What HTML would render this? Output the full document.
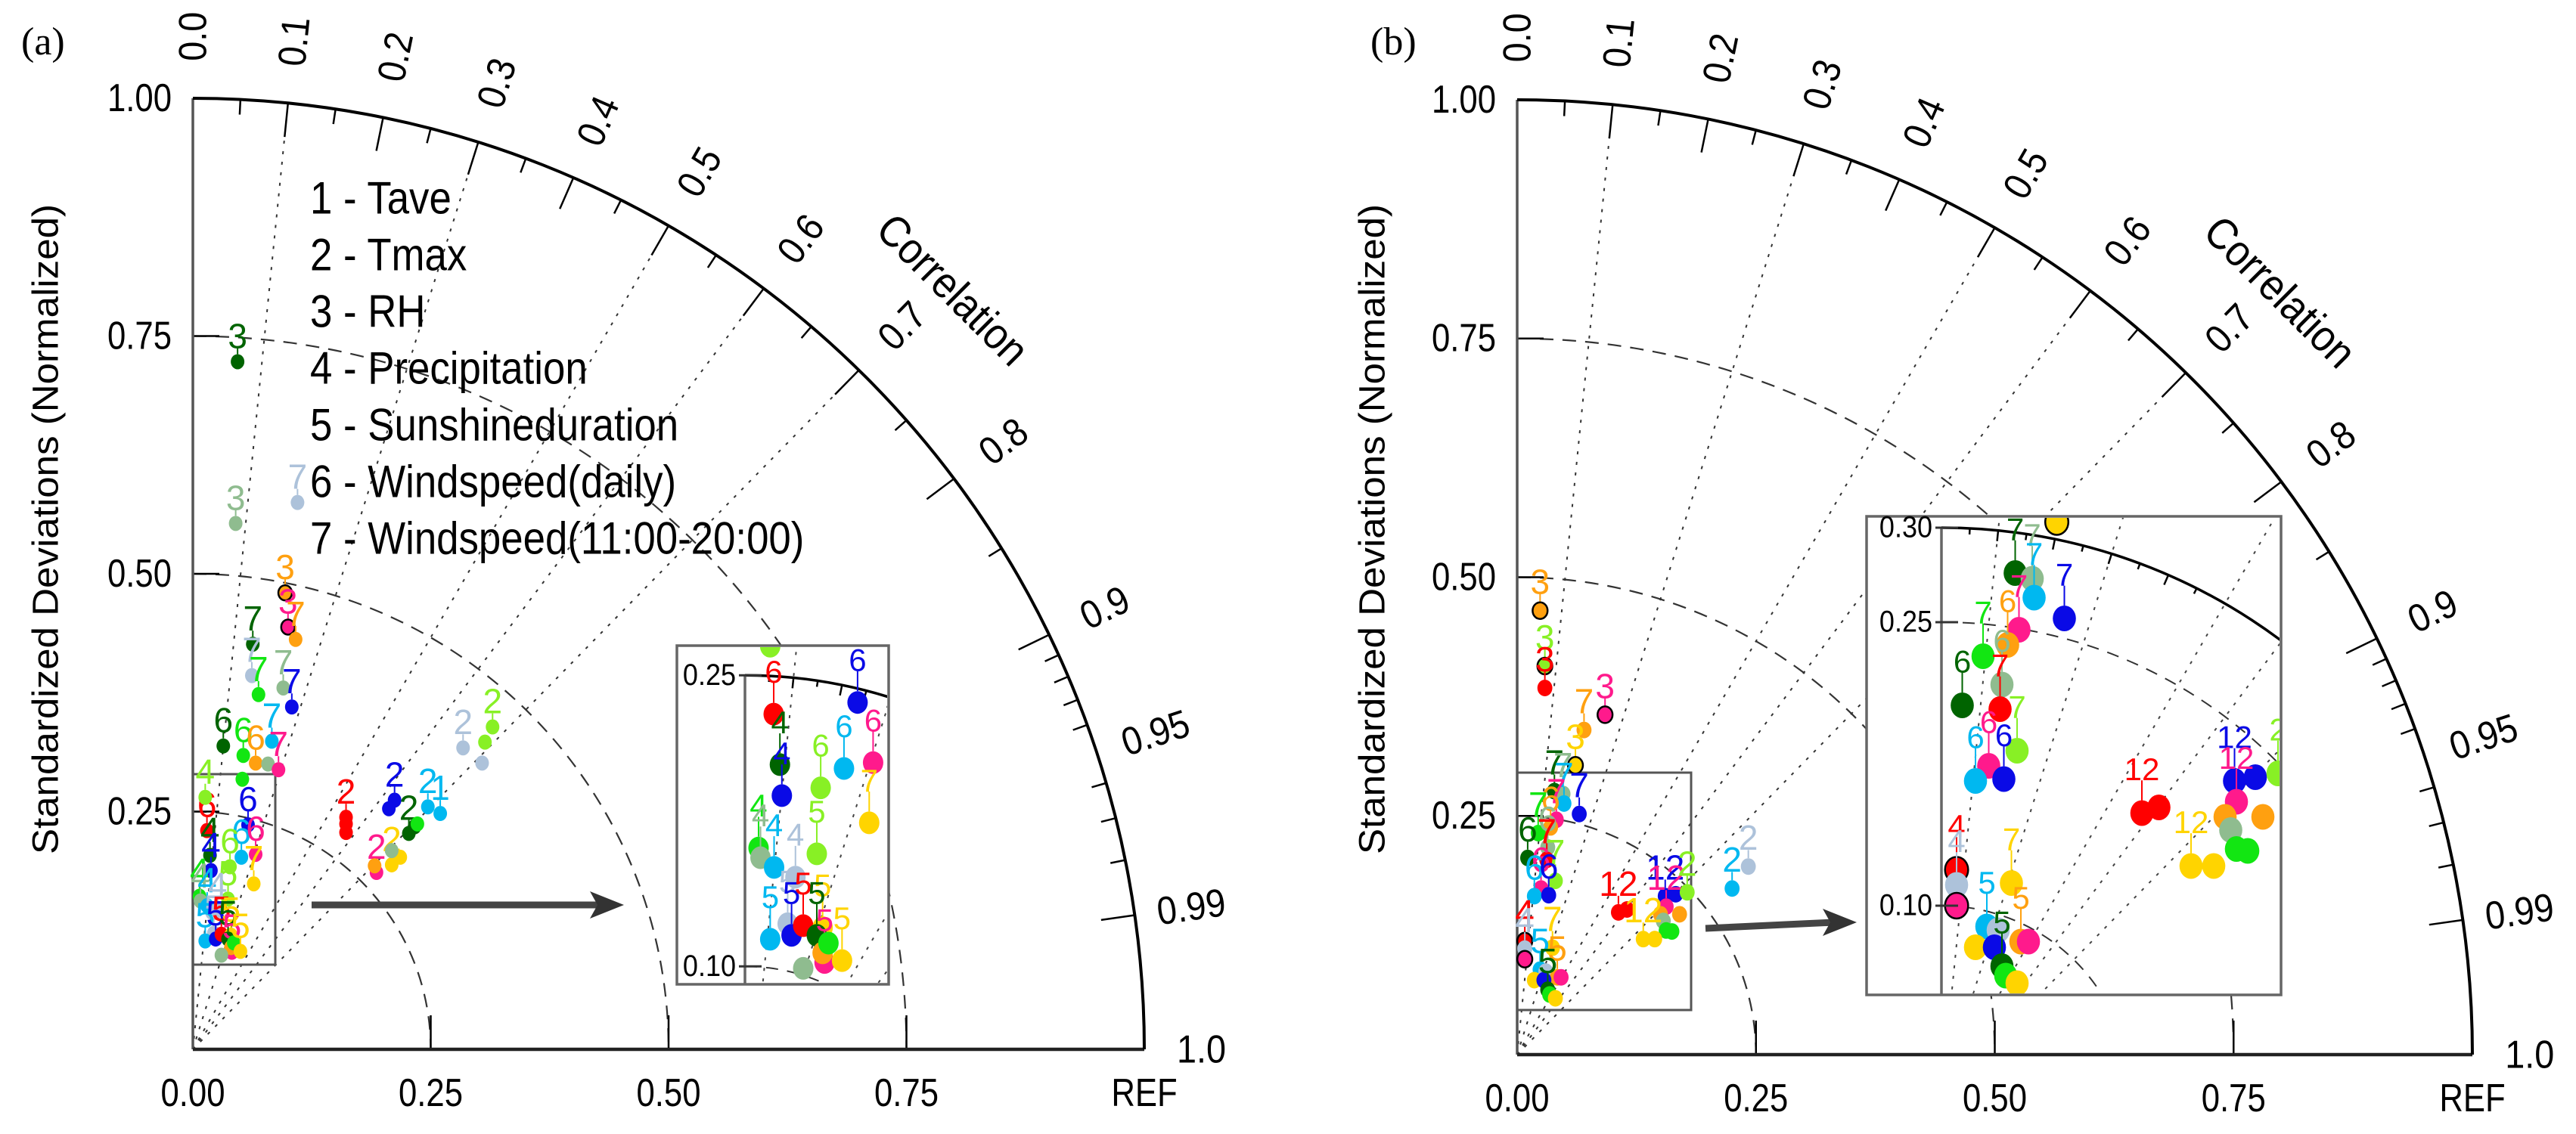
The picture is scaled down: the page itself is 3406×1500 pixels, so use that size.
<!DOCTYPE html>
<html><head><meta charset="utf-8"><title>Taylor diagrams</title>
<style>html,body{margin:0;padding:0;background:#fff;}svg{display:block;font-family:"Liberation Sans",sans-serif;}</style>
</head><body>
<svg id="chart" xmlns="http://www.w3.org/2000/svg" width="3406" height="1500" viewBox="0 0 3406 1500">
<defs>
<clipPath id="clipA"><rect x="897" y="856" width="276" height="444"/></clipPath>
<clipPath id="clipB"><rect x="2470" y="685" width="544" height="629"/></clipPath>
</defs>
</svg>
<script>
// ---------- data: panel (a) ----------
const aX = [.047,.110,.045,.097,.100,.108,.063,.062,.069,.095,.104,.032,.053,.066,.079,.083,.090,.052,
 .161,.161,.161,.212,.206,.193,.191,.209,.218,.209,.227,.233,.236,.247,.260,.284,.304,.315,.307,
 .0148,.018,.019,.058,.051,.066,.039,.064,.007,.008,.015,.037,.026,.022,.013,.024,.030,.040,.037,.041,.040,.043,.050,.030,.013];
const aY = [.723,.575,.553,.480,.444,.431,.426,.393,.373,.380,.360,.319,.309,.301,.300,.324,.294,.284,
 .244,.237,.228,.262,.253,.186,.193,.194,.202,.209,.227,.234,.237,.255,.248,.317,.301,.339,.323,
 .230,.204,.188,.236,.202,.205,.192,.174,.161,.156,.151,.158,.146,.122,.114,.116,.121,.120,.116,.102,.107,.112,.103,.099,.265];
const aCol = ['DG','LS','SG','O','P','O','DG','LS','G','SG','B','DG','G','O','SG','C','P','G',
 'R','R','R','B','B','P','O','Y','Y','SG','DG','DG','G','C','C','LS','LS','LG','LG',
 'R','DG','B','B','C','P','LG','Y','G','SG','C','LG','LS','LS','C','B','R','Y','DG','P','O','G','Y','SG','LG'];
const aLab = ['3','7','3','3','3','7','7','7','7','7','7','6','6','6','','7','7','',
 '2','','','2','','2','','2','','','2','','','2','1','2','','2','',
 '6','4','4','6','6','6','6','7','4','4','4','5','4','5','5','5','5','5','5','5','','','5','','4'];
const aOut = [0,0,0,1,1,0,0,0,0,0,0,0,0,0,0,0,0,0, 0,0,0,0,0,0,0,0,0,0,0,0,0,0,0,0,0,0,0,
 0,0,0,0,0,0,0,0,0,0,0,0,0,0,0,0,0,0,0,0,0,0,0,0,0];
// ---------- data: panel (b) ----------
const bX = [.024,.029,.029,.092,.070,.061,.065,
 .039,.048,.049,.041,.035,.022,.032,.011,.031,.040,.025,.018,.033,
 .106,.115,.155,.166,.156,.150,.170,.153,.156,.162,.178,.132,.144,.225,.242,
 .008,.008,.008,.037,.024,.030,.042,.046,.018,.028,.032,.034,.040];
const bY = [.465,.407,.384,.356,.340,.303,.252,
 .276,.273,.263,.246,.238,.232,.217,.206,.204,.182,.174,.166,.167,
 .149,.152,.166,.168,.155,.147,.147,.140,.130,.129,.170,.121,.121,.174,.197,
 .119,.111,.100,.112,.089,.087,.081,.081,.078,.078,.068,.063,.059];
const bCol = ['O','LG','R','P','O','Y','B',
 'DG','SG','C','P','O','G','SG','DG','R','LG','P','C','B',
 'R','R','B','B','P','O','O','SG','G','G','LG','Y','Y','C','LS',
 'R','LS','P','Y','C','LS','O','P','Y','B','DG','G','Y'];
const bLab = ['3','3','3','3','7','3','7',
 '7','7','7','7','6','7','6','6','7','7','6','6','6',
 '12','','12','','12','','','','','','2','12','','2','2',
 '4','4','','7','5','','5','','','','5','',''];
const bOut = [1,1,0,1,0,1,0, 0,0,0,0,0,0,0,0,0,0,0,0,0, 0,0,0,0,0,0,0,0,0,0,0,0,0,0,0, 1,0,1,0,0,0,0,0,0,0,0,0,0];
// ---------- axis ticks / labels ----------
const sdTicks = [0.25, 0.5, 0.75];
const sdTickLabels = ['0.25','0.50','0.75'];
const corrLabelVals = [0.0,0.1,0.2,0.3,0.4,0.5,0.6,0.7,0.8,0.9,0.95,0.99,1.0];
const corrLabelText = ['0.0','0.1','0.2','0.3','0.4','0.5','0.6','0.7','0.8','0.9','0.95','0.99','1.0'];
const corrGridVals = [0.1,0.3,0.5,0.6,0.7];
const legendItems = ['1 - Tave','2 - Tmax','3 - RH','4 - Precipitation','5 - Sunshineduration','6 - Windspeed(daily)','7 - Windspeed(11:00-20:00)'];

const COLORS = {R:'#ff0000',B:'#0a0ae6',DG:'#006400',G:'#12e612',LG:'#88f025',C:'#00b8f0',P:'#ff1a8c',O:'#ffa010',Y:'#ffd400',SG:'#8fbc8f',LS:'#adc2da'};
const NS = 'http://www.w3.org/2000/svg';
const svg = document.getElementById('chart');
function mk(parent, tag, attrs){const e=document.createElementNS(NS,tag);for(const k in attrs)e.setAttribute(k,attrs[k]);parent.appendChild(e);return e;}
function txt(parent,x,y,s,size,rot,anchor,sx){const e=mk(parent,'text',{transform:`translate(${x},${y}) rotate(${rot||0}) scale(${sx||0.84},1)`,'font-size':size,'text-anchor':anchor||'middle','dominant-baseline':'central',fill:'#000'});e.textContent=s;return e;}

function drawFrame(P, tag){
  const g = mk(svg,'g',{});
  
  
  const sx=v=>P.ox+v*P.R, sy=v=>P.oy-v*P.R;
  sdTicks.forEach((r,i)=>{
    const a=mk(g,'path',{d:`M${P.ox} ${sy(r)} A${r*P.R} ${r*P.R} 0 0 1 ${sx(r)} ${P.oy}`,fill:'none',stroke:'#333','stroke-width':2.2,'stroke-dasharray':'18 12'});
    
    
    const t1=mk(g,'line',{x1:sx(r),y1:P.oy,x2:sx(r),y2:P.oy-45,stroke:'#000','stroke-width':2.5});
    
    
    const t2=mk(g,'line',{x1:P.ox,y1:sy(r),x2:P.ox+35,y2:sy(r),stroke:'#000','stroke-width':2.5});
    
    
    const xl=txt(g,sx(r),P.oy+58,sdTickLabels[i],52);
    
    
    const yl=txt(g,P.ox-28,sy(r),sdTickLabels[i],52,0,'end');
    
    
  });
  const x0=txt(g,P.ox,P.oy+58,'0.00',52);
  
  
  const ref=txt(g,sx(1),P.oy+58,'REF',52);
  
  
  const y1=txt(g,P.ox-28,sy(1),'1.00',52,0,'end');
  
  
  corrGridVals.forEach(c=>{
    const s=Math.sqrt(1-c*c);
    const l=mk(g,'line',{x1:P.ox,y1:P.oy,x2:sx(c),y2:sy(s),stroke:'#333','stroke-width':2,'stroke-dasharray':'4 10'});
    
    
  });
  const ya=mk(g,'line',{x1:P.ox,y1:P.oy,x2:P.ox,y2:sy(1),stroke:'#555','stroke-width':3.5});
  
  
  const xa=mk(g,'line',{x1:P.ox,y1:P.oy,x2:sx(1),y2:P.oy,stroke:'#222','stroke-width':4.5});
  
  
  const arc=mk(g,'path',{d:`M${P.ox} ${sy(1)} A${P.R} ${P.R} 0 0 1 ${sx(1)} ${P.oy}`,fill:'none',stroke:'#000','stroke-width':4});
  
  
  const tv=[];for(let k=1;k<19;k++)tv.push(k*0.05);for(let k=91;k<100;k++)if(k!==95)tv.push(k/100);
  tv.forEach(c=>{
    const s=Math.sqrt(1-c*c);
    const major=(Math.abs(c*10-Math.round(c*10))<1e-6)||Math.abs(c-0.95)<1e-6||Math.abs(c-0.99)<1e-6;
    const L=major?45:20;
    const tk=mk(g,'line',{x1:sx(c),y1:sy(s),x2:sx(c*(1-L/P.R)),y2:sy(s*(1-L/P.R)),stroke:'#000','stroke-width':2.5});
    
    
  });
  corrLabelVals.forEach((c,i)=>{
    const s=Math.sqrt(1-c*c);const th=Math.acos(c)*180/Math.PI;const r=c>0.97?1.06:1.065;
    const t=txt(g,sx(c*r),sy(s*r),corrLabelText[i],52,-th,'middle',0.9);
    
    
  });
  const cl=txt(g,sx(0.707*1.13),sy(0.707*1.13),'Correlation',58,45,'middle',0.9);
  
  
  const yt=mk(g,'text',{transform:`translate(${P.titleX},700) rotate(-90)`,'font-size':48,'text-anchor':'middle','dominant-baseline':'central',textLength:860,lengthAdjust:'spacingAndGlyphs'});
  yt.textContent='Standardized Deviations (Normalized)';
  
  
  const pl=mk(g,'text',{x:P.labX,y:72,'font-size':52,'font-family':'Liberation Serif, serif'});
  pl.textContent=tag==='a'?'(a)':'(b)';
  
  
  return g;
}

function drawPoints(parent, T, X, Y, C, L, O, rad, lOff, fs, tag){
  for(let i=0;i<X.length;i++){
    const cx=T.ox+X[i]*T.R, cy=T.oy-Y[i]*T.R;
    if(L[i]){
      const st=mk(parent,'line',{x1:cx,y1:cy-rad,x2:cx,y2:cy-lOff+fs*0.35,stroke:COLORS[C[i]],'stroke-width':2});
      
      
      const t=mk(parent,'text',{x:cx,y:cy-lOff,'font-size':fs,'text-anchor':'middle','dominant-baseline':'central',fill:COLORS[C[i]]});
      t.textContent=L[i];
      
      
    }
    const c=mk(parent,'ellipse',{cx:cx,cy:cy,rx:rad*0.9,ry:rad,fill:COLORS[C[i]],stroke:O[i]?'#000':'none','stroke-width':2.5});
    
    
  }
}

function drawInset(I, tag, X, Y, C, L, O){
  const g=mk(svg,'g',{});
  
  
  const bx=mk(g,'rect',{x:I.bx,y:I.by,width:I.bw,height:I.bh,fill:'#fff',stroke:'#666','stroke-width':3.5});
  
  
  const cg=mk(g,'g',{'clip-path':I.clip});
  
  
  const sx=v=>I.ox+v*I.R, sy=v=>I.oy-v*I.R;
  corrGridVals.forEach(c=>{const s=Math.sqrt(1-c*c);
    const l=mk(cg,'line',{x1:I.ox,y1:I.oy,x2:sx(c*0.4),y2:sy(s*0.4),stroke:'#444','stroke-width':2,'stroke-dasharray':'4 10'});
    
    });
  I.dash.forEach(r=>{
    const a=mk(cg,'path',{d:`M${I.ox} ${sy(r)} A${r*I.R} ${r*I.R} 0 0 1 ${sx(r)} ${I.oy}`,fill:'none',stroke:'#333','stroke-width':2,'stroke-dasharray':'16 12'});
    
    
  });
  const ar=mk(cg,'path',{d:`M${I.ox} ${sy(I.top)} A${I.top*I.R} ${I.top*I.R} 0 0 1 ${sx(I.top)} ${I.oy}`,fill:'none',stroke:'#000','stroke-width':3.5});
  
  
  for(let k=1;k<10;k++){const c=k*0.05,s=Math.sqrt(1-c*c),L=(k%2===0)?14:8;
    const tk=mk(cg,'line',{x1:sx(c*I.top),y1:sy(s*I.top),x2:sx(c*(I.top-L/I.R)),y2:sy(s*(I.top-L/I.R)),stroke:'#000','stroke-width':2.5});
    
    }
  const ax=mk(g,'line',{x1:I.ox,y1:sy(I.top),x2:I.ox,y2:I.by+I.bh,stroke:'#666','stroke-width':3.5});
  
  
  I.ticks.forEach((v,i)=>{
    const t=txt(g,I.ox-12,sy(v),I.tickText[i],40,0,'end',0.9);
    
    
    const tk=mk(g,'line',{x1:I.ox-8,y1:sy(v),x2:I.ox+22,y2:sy(v),stroke:'#333','stroke-width':3});
    
    
  });
  drawPoints(cg,I,X,Y,C,L,O,I.rad,I.lOff,42,tag+'-inset');
}

function arrow(x1,y1,x2,y2,tag){
  const l=mk(svg,'line',{x1:x1,y1:y1,x2:x2-30,y2:y2,stroke:'#444','stroke-width':9});
  
  
  const h=mk(svg,'polygon',{points:`${x2},${y2} ${x2-45},${y2-18} ${x2-35},${y2} ${x2-45},${y2+18}`,fill:'#333'});
  
  
}

const PA={ox:255,oy:1388,R:1258,titleX:61,labX:28};
const PB={ox:2006,oy:1395,R:1263,titleX:1815,labX:1812};
const gA=drawFrame(PA,'a');
const gB=drawFrame(PB,'b');

legendItems.forEach((s,i)=>{
  const t=txt(svg,410,262+i*75,s,60,0,'start',0.88);
  
  
});

const sa=mk(svg,'rect',{x:255,y:1024,width:109,height:252,fill:'none',stroke:'#555','stroke-width':3});


const sb=mk(svg,'rect',{x:2006,y:1022,width:230,height:314,fill:'none',stroke:'#555','stroke-width':3});



const gpA=mk(svg,'g',{});


drawPoints(gpA,PA,aX,aY,aCol,aLab,aOut,10,34,46,'a');
const gpB=mk(svg,'g',{});


drawPoints(gpB,PB,bX,bY,bCol,bLab,bOut,11,38,46,'b');

arrow(412,1197,825,1197,'a');
arrow(2255,1228,2455,1220,'b');

drawInset({bx:895,by:854,bw:280,bh:448,ox:985,oy:1535,R:2567,top:0.25,dash:[0.10],ticks:[0.25,0.10],tickText:['0.25','0.10'],clip:'url(#clipA)',rad:15,lOff:56},'a',aX,aY,aCol,aLab,aOut);
drawInset({bx:2468,by:683,bw:548,bh:633,ox:2567,oy:1448,R:2500,top:0.30,dash:[0.25,0.10],ticks:[0.30,0.25,0.10],tickText:['0.30','0.25','0.10'],clip:'url(#clipB)',rad:17,lOff:58},'b',bX,bY,bCol,bLab,bOut);
</script>
</body></html>
